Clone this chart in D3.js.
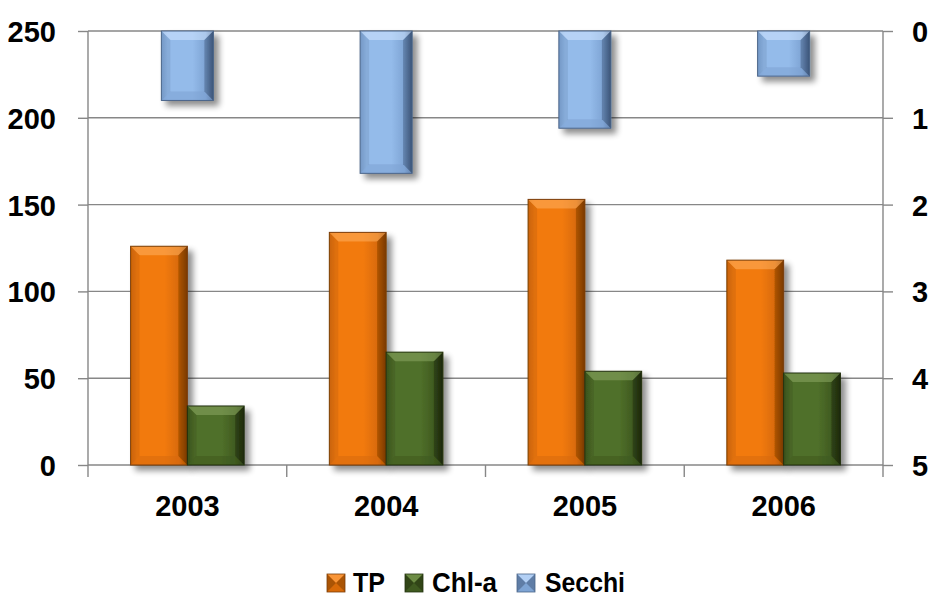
<!DOCTYPE html>
<html>
<head>
<meta charset="utf-8">
<script src="https://cdn.jsdelivr.net/npm/d3@7"></script>
<style>
  html, body { margin: 0; padding: 0; background: #fff; }
  svg { display: block; }
  text { font-family: "Liberation Sans", Arial, sans-serif; font-weight: bold; fill: #000; }
</style>
</head>
<body>
<svg id="chart" width="932" height="597"></svg>
<script>
// ---- data ----
const years = ["2003", "2004", "2005", "2006"];
const tpValues = [126, 134, 153, 118];
const chlValues = [34, 65, 54, 53];
const secchiValues = [0.8, 1.64, 1.12, 0.52];
const leftTicks = [0, 50, 100, 150, 200, 250];
const rightTicks = [0, 1, 2, 3, 4, 5];
const seriesNames = ["TP", "Chl-a", "Secchi"];

// ---- layout ----
const plot = { left: 88, right: 883, top: 31, bottom: 465 };
const svg = d3.select("#chart");

const styles = {
  "TP":    { base: "#f27a0e", light: "#ffb060", dark: "#7a3a00", mid: "#d86a08", stroke: "#7a3e08" },
  "Chl-a": { base: "#50702a", light: "#8aa860", dark: "#1c280c", mid: "#3f5a20", stroke: "#24320f" },
  "Secchi":{ base: "#94bbea", light: "#d2e6ff", dark: "#3c5478", mid: "#7ea4d4", stroke: "#4a6488" }
};

const defs = svg.append("defs");
const shadow = defs.append("filter").attr("id", "shadow")
  .attr("x", "-20%").attr("y", "-20%").attr("width", "160%").attr("height", "160%");
shadow.append("feGaussianBlur").attr("in", "SourceAlpha").attr("stdDeviation", 3).attr("result", "b");
shadow.append("feOffset").attr("in", "b").attr("dx", 5).attr("dy", 5).attr("result", "o");
shadow.append("feComponentTransfer").attr("in", "o").attr("result", "s")
  .append("feFuncA").attr("type", "linear").attr("slope", 0.45);
const merge = shadow.append("feMerge");
merge.append("feMergeNode").attr("in", "s");
merge.append("feMergeNode").attr("in", "SourceGraphic");

Object.entries(styles).forEach(([k, s], i) => {
  const g = defs.append("linearGradient").attr("id", "grad" + i)
    .attr("x1", "0").attr("x2", "1").attr("y1", "0").attr("y2", "0");
  g.append("stop").attr("offset", "0").attr("stop-color", s.mid);
  g.append("stop").attr("offset", "0.12").attr("stop-color", s.base);
  g.append("stop").attr("offset", "0.6").attr("stop-color", s.base);
  g.append("stop").attr("offset", "0.85").attr("stop-color", s.mid);
  g.append("stop").attr("offset", "1").attr("stop-color", s.dark);
  s.grad = "url(#grad" + i + ")";
});

// ---- scales ----
const x = d3.scaleBand().domain(years).range([plot.left, plot.right]);
const xInner = d3.scaleBand().domain(["TP", "Chl-a"]).range([0, x.bandwidth()])
  .paddingInner(0).paddingOuter(0.75);
const xSec = d3.scaleBand().domain(["Secchi"]).range([0, x.bandwidth()])
  .paddingInner(0).paddingOuter(1.41);
const y = d3.scaleLinear().domain([0, 250]).range([plot.bottom, plot.top]);
const y2 = d3.scaleLinear().domain([0, 5]).range([plot.top, plot.bottom]);

// ---- gridlines + left axis ----
const gridColor = "#878787";
const leftAxis = svg.append("g").attr("transform", `translate(${plot.left},0)`)
  .call(d3.axisLeft(y).tickValues(leftTicks).tickSize(10).tickPadding(22).tickFormat(d3.format("d")));
leftAxis.select(".domain").remove();
leftAxis.selectAll(".tick line").attr("stroke", gridColor).attr("stroke-width", 1.4);
leftAxis.selectAll(".tick text").attr("font-size", 29).attr("dy", "0.36em");

svg.append("g").selectAll("line").data(leftTicks).join("line")
  .attr("x1", plot.left).attr("x2", plot.right)
  .attr("y1", d => y(d)).attr("y2", d => y(d))
  .attr("stroke", gridColor).attr("stroke-width", 1.4);

// right axis
const rightAxis = svg.append("g").attr("transform", `translate(${plot.right},0)`)
  .call(d3.axisRight(y2).tickValues(rightTicks).tickSize(10).tickPadding(19).tickFormat(d3.format("d")));
rightAxis.select(".domain").remove();
rightAxis.selectAll(".tick line").attr("stroke", gridColor).attr("stroke-width", 1.4);
rightAxis.selectAll(".tick text").attr("font-size", 29).attr("dy", "0.36em");

// vertical axis lines & category ticks
const boundaries = [plot.left].concat(years.map(d => x(d) + x.bandwidth()));
svg.append("g").selectAll("line").data(boundaries).join("line")
  .attr("x1", d => d).attr("x2", d => d)
  .attr("y1", (d, i) => (i === 0 || i === boundaries.length - 1) ? plot.top : plot.bottom)
  .attr("y2", plot.bottom + 12)
  .attr("stroke", gridColor).attr("stroke-width", 1.4);

// bottom axis labels
const bottomAxis = svg.append("g").attr("transform", `translate(0,${plot.bottom})`)
  .call(d3.axisBottom(x).tickSize(0).tickPadding(30));
bottomAxis.select(".domain").remove();
bottomAxis.selectAll(".tick text").attr("font-size", 29);

// ---- bar drawing ----
function bevelBar(g, bx, by, bw, bh, s) {
  const grp = g.append("g").attr("filter", "url(#shadow)");
  grp.append("rect").attr("x", bx).attr("y", by).attr("width", bw).attr("height", bh)
    .attr("fill", s.grad);
  const b = Math.min(9, bh / 2);
  grp.append("path")
    .attr("d", `M${bx},${by} L${bx + bw},${by} L${bx + bw - b},${by + b} L${bx + b},${by + b} Z`)
    .attr("fill", s.light).attr("opacity", 0.55);
  grp.append("path")
    .attr("d", `M${bx},${by + bh} L${bx + bw},${by + bh} L${bx + bw - b},${by + bh - b} L${bx + b},${by + bh - b} Z`)
    .attr("fill", s.mid).attr("opacity", 0.6);
  grp.append("path")
    .attr("d", `M${bx + bw},${by} L${bx + bw},${by + bh} L${bx + bw - b},${by + bh - b} L${bx + bw - b},${by + b} Z`)
    .attr("fill", s.dark).attr("opacity", 0.45);
  grp.append("path")
    .attr("d", `M${bx},${by} L${bx},${by + bh} L${bx + b},${by + bh - b} L${bx + b},${by + b} Z`)
    .attr("fill", s.dark).attr("opacity", 0.15);
  grp.append("rect").attr("x", bx).attr("y", by).attr("width", bw).attr("height", bh)
    .attr("fill", "none").attr("stroke", s.stroke).attr("stroke-width", 1);
}

const barsG = svg.append("g");
years.forEach((yr, i) => {
  const x0 = x(yr);
  bevelBar(barsG, x0 + xInner("TP"), y(tpValues[i]), xInner.bandwidth(), y(0) - y(tpValues[i]), styles["TP"]);
  bevelBar(barsG, x0 + xInner("Chl-a"), y(chlValues[i]), xInner.bandwidth(), y(0) - y(chlValues[i]), styles["Chl-a"]);
  bevelBar(barsG, x0 + xSec("Secchi"), y2(0), xSec.bandwidth(), y2(secchiValues[i]) - y2(0), styles["Secchi"]);
});

// ---- legend ----
const legendItems = [
  { name: seriesNames[0], x: 327, tx: 353, len: 32 },
  { name: seriesNames[1], x: 405, tx: 432, len: 65 },
  { name: seriesNames[2], x: 517, tx: 545, len: 80 }
];
const lg = svg.append("g");
legendItems.forEach(it => {
  const s = styles[it.name];
  const sx = it.x, sy = 574, ss = 18, c = ss / 2;
  const sg = lg.append("g");
  sg.append("rect").attr("x", sx).attr("y", sy).attr("width", ss).attr("height", ss).attr("fill", s.base);
  sg.append("path").attr("d", `M${sx},${sy} L${sx + ss},${sy} L${sx + c},${sy + c} Z`).attr("fill", s.light).attr("opacity", 0.5);
  sg.append("path").attr("d", `M${sx},${sy + ss} L${sx + ss},${sy + ss} L${sx + c},${sy + c} Z`).attr("fill", s.mid);
  sg.append("path").attr("d", `M${sx},${sy} L${sx},${sy + ss} L${sx + c},${sy + c} Z`).attr("fill", s.dark).attr("opacity", 0.6);
  sg.append("path").attr("d", `M${sx + ss},${sy} L${sx + ss},${sy + ss} L${sx + c},${sy + c} Z`).attr("fill", s.dark).attr("opacity", 0.6);
  sg.append("rect").attr("x", sx).attr("y", sy).attr("width", ss).attr("height", ss).attr("fill", "none").attr("stroke", s.stroke).attr("stroke-width", 0.8);
  lg.append("text").attr("x", it.tx).attr("y", 592).attr("font-size", 28)
    .attr("textLength", it.len).attr("lengthAdjust", "spacingAndGlyphs").text(it.name);
});
</script>
</body>
</html>
